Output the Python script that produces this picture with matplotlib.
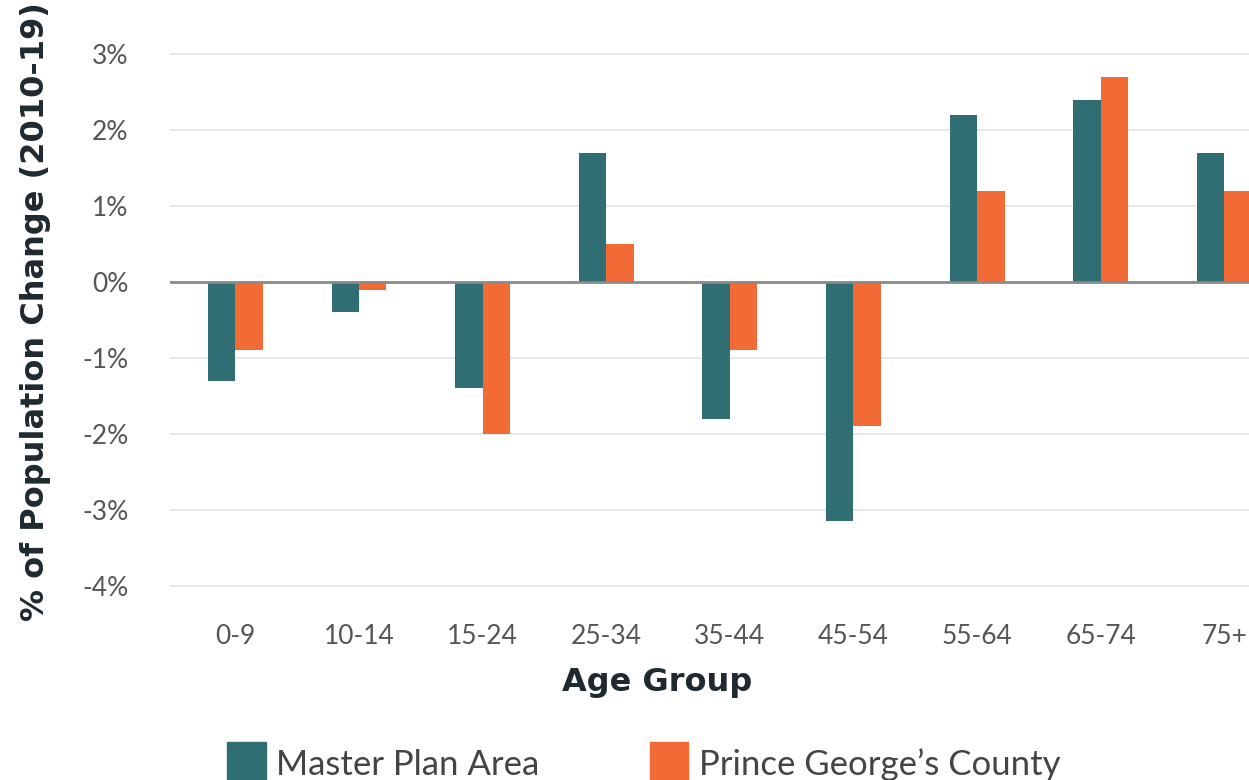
import matplotlib
matplotlib.use("Agg")
import matplotlib.pyplot as plt
from matplotlib.patches import Patch
import numpy as np

plt.rcParams['font.family'] = ['Lato', 'DejaVu Sans']

age_groups = ['0-9', '10-14', '15-24', '25-34', '35-44', '45-54', '55-64', '65-74', '75+']
master_plan = [-1.3, -0.4, -1.4, 1.7, -1.8, -3.15, 2.2, 2.4, 1.7]
pg_county = [-0.9, -0.1, -2.0, 0.5, -0.9, -1.9, 1.2, 2.7, 1.2]
y_ticks = [-4, -3, -2, -1, 0, 1, 2, 3]

teal = '#2f6e73'
orange = '#f26a35'

fig = plt.figure(figsize=(12.49, 7.8), dpi=100)
# axes runs past the right edge, like the cropped original
ax = fig.add_axes([0.136, 0.239, 0.868, 0.7015])

x = np.arange(len(age_groups))
w = 0.222
ax.bar(x - w / 2, master_plan, width=w, color=teal, zorder=3)
ax.bar(x + w / 2, pg_county, width=w, color=orange, zorder=3)

ax.set_xlim(-0.53, 8.24)
ax.set_ylim(-4.1, 3.1)
ax.set_yticks(y_ticks)
ax.set_yticklabels(['%d%%' % v for v in y_ticks])
ax.set_xticks(x)
ax.set_xticklabels(age_groups)
ax.tick_params(axis='both', length=0, labelsize=19, colors='#555555')
ax.tick_params(axis='x', pad=22)
ax.tick_params(axis='y', pad=30)

ax.grid(axis='y', color='#e8e8e8', linewidth=1.5, zorder=0)
ax.axhline(0, color='#8a8a8a', linewidth=2, zorder=4)
for s in ax.spines.values():
    s.set_visible(False)

title_font = dict(family='DejaVu Sans', fontsize=23, fontweight='bold', color='#1f2a30')
ax.set_xlabel('Age Group', **title_font)
ax.set_ylabel('% of Population Change (2010-19)', **title_font)
ax.xaxis.set_label_coords(0.449, -0.135)
ax.yaxis.set_label_coords(-0.110, 0.515)

handles = [Patch(color=teal, label='Master Plan Area'),
           Patch(color=orange, label="Prince George\u2019s County")]
fig.legend(handles=handles, loc='upper left', bbox_to_anchor=(0.182, 0.049), ncol=2,
           frameon=False, fontsize=25, handlelength=1.1, handleheight=1.6,
           handletextpad=0.3, columnspacing=3.2, labelcolor='#444444',
           borderaxespad=0, borderpad=0)

fig.savefig('out.png', dpi=100)
